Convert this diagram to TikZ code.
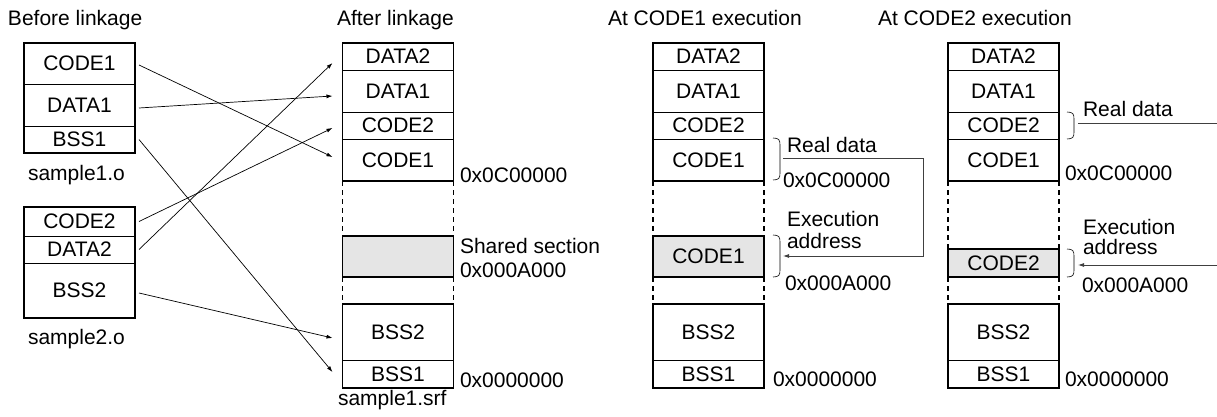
\documentclass[tikz,border=0pt]{standalone}
\usepackage{fontspec}
\setmainfont{Liberation Sans}
\usetikzlibrary{arrows.meta,positioning}
\newcommand\lblfont{\fontsize{21}{25}\selectfont}
\tikzset{
 sect/.style={draw,line width=.7pt,minimum width=111,inner sep=0,outer sep=0,font=\lblfont},
 shared/.style={sect,fill=gray!20,line width=1.4pt},
 frame/.style={line width=1.4pt},
 gapline/.style={line width=1.4pt,dash pattern=on 5pt off 4pt},
 txt/.style={anchor=base west,inner sep=0,outer sep=0,font=\lblfont},
 link/.style={line width=.7pt,-{Latex[length=6pt,width=4pt]}},
 jump/.style={line width=.8pt,draw=black!75,-{Latex[length=6pt,width=4pt]}},
 brk/.style={line width=.6pt}
}
% x, top, bottom of a round bracket
\newcommand\paren[3]{\draw[brk] (#1,#2) .. controls +(6,0) and +(0,-5) .. ++(7,7) -- ++(0,#3-#2-14) .. controls +(0,5) and +(6,0) .. ++(-7,7);}
\begin{document}
\begin{tikzpicture}[x=1pt,y=-1pt]
\useasboundingbox (0,0) rectangle (1217,417);
% titles
\node[txt] (tbefore) at (8,26) {Before linkage};
\node[txt] (tafter) at (337,26) {After linkage};
\node[txt] (tcode1) at (608,26) {At CODE1 execution};
\node[txt] (tcode2) at (878,26) {At CODE2 execution};
% sample1.o
\node[sect,minimum height=41] (s1code1) at (79.5,63.5) {CODE1};
\node[sect,minimum height=42,below=0pt of s1code1] (s1data1) {DATA1};
\node[sect,minimum height=27,below=0pt of s1data1] (s1bss1) {BSS1};
\draw[frame] (s1code1.north west) rectangle (s1bss1.south east);
\node[txt] (s1name) at (28,180) {sample1.o};
% sample2.o
\node[sect,minimum height=29] (s2code2) at (79.5,221.5) {CODE2};
\node[sect,minimum height=27,below=0pt of s2code2] (s2data2) {DATA2};
\node[sect,minimum height=55,below=0pt of s2data2] (s2bss2) {BSS2};
\draw[frame] (s2code2.north west) rectangle (s2bss2.south east);
\node[txt] (s2name) at (28,344) {sample2.o};
% after linkage
\node[sect,minimum height=27] (a2data2) at (398,56.5) {DATA2};
\node[sect,minimum height=42,below=0pt of a2data2] (a2data1) {DATA1};
\node[sect,minimum height=27,below=0pt of a2data1] (a2code2) {CODE2};
\node[sect,minimum height=42,below=0pt of a2code2] (a2code1) {CODE1};
\node[shared,minimum height=41] (a2shared) at (398,256.5) {};
\node[sect,minimum height=56] (a2bss2) at (398,332) {BSS2};
\node[sect,minimum height=28,below=0pt of a2bss2] (a2bss1) {BSS1};
\draw[frame] (a2data2.north west) rectangle (a2code1.south east);
\draw[frame] (a2bss2.north west) rectangle (a2bss1.south east);
\draw[gapline] (a2code1.south west) -- (a2shared.north west);
\draw[gapline] (a2code1.south east) -- (a2shared.north east);
\draw[gapline] (a2shared.south west) -- (a2bss2.north west);
\draw[gapline] (a2shared.south east) -- (a2bss2.north east);
\node[txt] (a2top) at (460,182) {0x0C00000};
\node[txt] (a2shname) at (460,253) {Shared section};
\node[txt] (a2shaddr) at (460,277) {0x000A000};
\node[txt] (a2base) at (460,387) {0x0000000};
\node[txt] (a2name) at (338,405) {sample1.srf};
% linkage
\draw[link] ([xshift=4,yshift=-1.5]s1code1.east) -- ([xshift=-10,yshift=3]a2code1.west);
\draw[link] ([xshift=4,yshift=-3]s1data1.east) -- ([xshift=-10,yshift=-5]a2data1.west);
\draw[link] ([xshift=4]s1bss1.east) -- ([xshift=-10,yshift=2]a2bss1.west);
\draw[link] ([xshift=4]s2code2.east) -- ([xshift=-10,yshift=-2.5]a2code2.west);
\draw[link] ([xshift=4]s2data2.east) -- ([xshift=-10,yshift=-6.5]a2data2.west);
\draw[link] ([xshift=4,yshift=-2.5]s2bss2.east) -- ([xshift=-10,yshift=-6]a2bss2.west);
% at CODE1 execution
\node[sect,minimum height=27] (c3data2) at (708.5,56.5) {DATA2};
\node[sect,minimum height=42,below=0pt of c3data2] (c3data1) {DATA1};
\node[sect,minimum height=27,below=0pt of c3data1] (c3code2) {CODE2};
\node[sect,minimum height=42,below=0pt of c3code2] (c3code1) {CODE1};
\node[shared,minimum height=41] (c3shared) at (708.5,256.5) {CODE1};
\node[sect,minimum height=56] (c3bss2) at (708.5,332) {BSS2};
\node[sect,minimum height=28,below=0pt of c3bss2] (c3bss1) {BSS1};
\draw[frame] (c3data2.north west) rectangle (c3code1.south east);
\draw[frame] (c3bss2.north west) rectangle (c3bss1.south east);
\draw[gapline] (c3code1.south west) -- (c3shared.north west);
\draw[gapline] (c3code1.south east) -- (c3shared.north east);
\draw[gapline] (c3shared.south west) -- (c3bss2.north west);
\draw[gapline] (c3shared.south east) -- (c3bss2.north east);
\paren{773}{138}{180}
\paren{773}{235}{277}
\coordinate (c3real) at (783,158);
\coordinate (c3exec) at (783,256);
\draw[jump] (c3real) -- ++(140,0) |- (c3exec);
\node[txt] (c3rdlbl) at (787,152) {Real data};
\node[txt] (c3top) at (783,187) {0x0C00000};
\node[txt] (c3exlbl) at (787,226) {Execution};
\node[txt] (c3exlbl2) at (787,248) {address};
\node[txt] (c3shaddr) at (785,290) {0x000A000};
\node[txt] (c3base) at (773,386) {0x0000000};
% at CODE2 execution
\node[sect,minimum height=27] (c4data2) at (1003.5,56.5) {DATA2};
\node[sect,minimum height=42,below=0pt of c4data2] (c4data1) {DATA1};
\node[sect,minimum height=27,below=0pt of c4data1] (c4code2) {CODE2};
\node[sect,minimum height=42,below=0pt of c4code2] (c4code1) {CODE1};
\node[shared,minimum height=28] (c4shared) at (1003.5,263) {CODE2};
\node[sect,minimum height=56] (c4bss2) at (1003.5,332) {BSS2};
\node[sect,minimum height=28,below=0pt of c4bss2] (c4bss1) {BSS1};
\draw[frame] (c4data2.north west) rectangle (c4code1.south east);
\draw[frame] (c4bss2.north west) rectangle (c4bss1.south east);
\draw[gapline] (c4code1.south west) -- (c4shared.north west);
\draw[gapline] (c4code1.south east) -- (c4shared.north east);
\draw[gapline] (c4shared.south west) -- (c4bss2.north west);
\draw[gapline] (c4shared.south east) -- (c4bss2.north east);
\paren{1067}{112}{139}
\paren{1067}{249}{277}
\coordinate (c4real) at (1078,123);
\coordinate (c4out) at (1217,123);
\coordinate (c4in) at (1217,265);
\coordinate (c4exec) at (1078,265);
\draw[jump,-] (c4real) -- (c4out);
\draw[jump] (c4in) -- (c4exec);
\node[txt] (c4rdlbl) at (1083,117) {Real data};
\node[txt] (c4top) at (1065,180) {0x0C00000};
\node[txt] (c4exlbl) at (1083,234) {Execution};
\node[txt] (c4exlbl2) at (1083,254) {address};
\node[txt] (c4shaddr) at (1082,292) {0x000A000};
\node[txt] (c4base) at (1065,386) {0x0000000};
\end{tikzpicture}
\end{document}
